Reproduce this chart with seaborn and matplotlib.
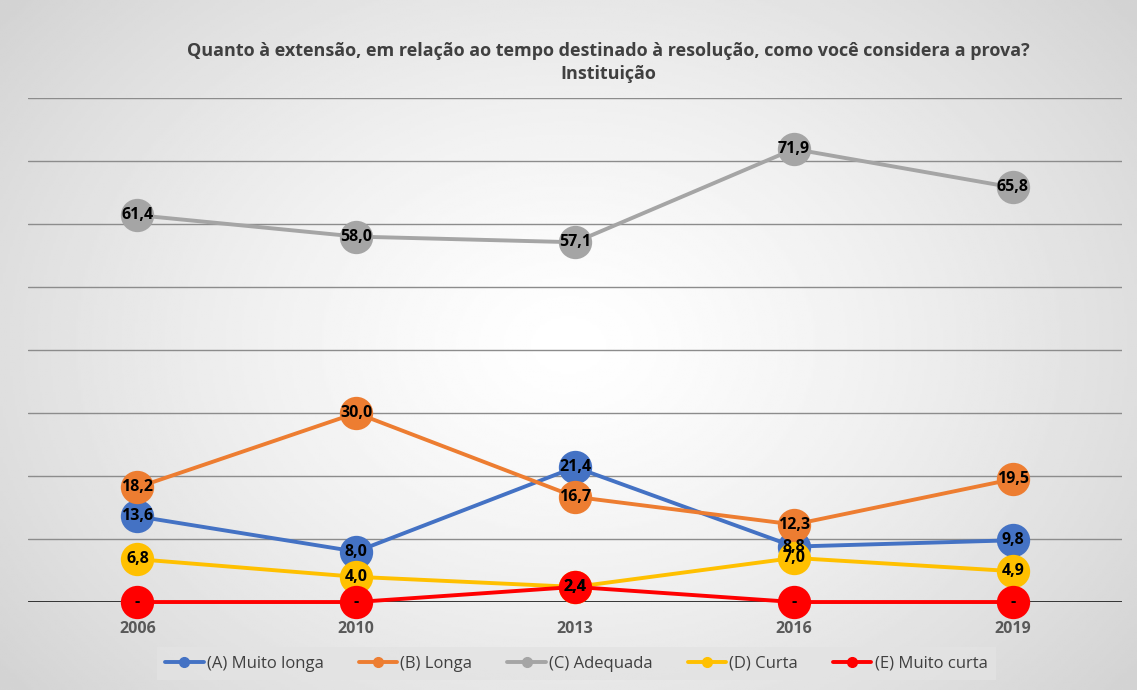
import numpy as np
import pandas as pd
import seaborn as sns
import matplotlib.pyplot as plt
from matplotlib.lines import Line2D

years = ["2006", "2010", "2013", "2016", "2019"]
muito_longa = [13.6, 8.0, 21.4, 8.8, 9.8]
longa = [18.2, 30.0, 16.7, 12.3, 19.5]
adequada = [61.4, 58.0, 57.1, 71.9, 65.8]
curta = [6.8, 4.0, 2.4, 7.0, 4.9]
muito_curta = [0.0, 0.0, 2.4, 0.0, 0.0]

series = ["(A) Muito longa", "(B) Longa", "(C) Adequada", "(D) Curta", "(E) Muito curta"]
colors = ["#4472C4", "#ED7D31", "#A5A5A5", "#FFC000", "#FF0000"]

df = pd.DataFrame({
    "ano": years * 5,
    "serie": np.repeat(series, len(years)),
    "valor": muito_longa + longa + adequada + curta + muito_curta,
})

sns.set_style("white")
plt.rcParams["font.family"] = ["Open Sans", "DejaVu Sans"]

fig = plt.figure(figsize=(11.37, 6.9), dpi=100)

# radial gradient background
bg = fig.add_axes([0, 0, 1, 1], zorder=-5)
yy, xx = np.mgrid[-1:1:300j, -1:1:500j]
r = np.sqrt(xx**2 + (yy * 0.8)**2)
bg.imshow(1 - 0.17 * np.clip(r / 1.25, 0, 1) ** 1.3, cmap="gray", vmin=0, vmax=1,
          aspect="auto", extent=[0, 1, 0, 1])
bg.set_axis_off()

ax = fig.add_axes([0.0246, 0.1275, 0.9624, 0.7305])
ax.patch.set_alpha(0)

for i, s in enumerate(series):
    d = df[df.serie == s]
    sns.lineplot(data=d, x="ano", y="valor", color=colors[i], marker="o",
                 markersize=24, markeredgewidth=0, linewidth=2.8,
                 sort=False, ax=ax, zorder=3 + i, legend=False)
for ln in ax.lines:
    ln.set_clip_on(False)

for s in series:
    d = df[df.serie == s]
    for j, v in enumerate(d.valor):
        lab = "-" if v == 0 else f"{v:.1f}".replace(".", ",")
        ax.text(j, v, lab, ha="center", va="center", fontsize=11.5,
                fontweight="bold", color="black", zorder=20, clip_on=False)

ax.set_ylim(0, 80)
ax.set_xlim(-0.5, 4.5)
ax.set_yticks(np.arange(0, 81, 10))
ax.set_yticklabels([])
ax.yaxis.grid(True, color="#8c8c8c", linewidth=1)
ax.axhline(0, color="#262626", linewidth=2, zorder=2)
ax.set_xlabel("")
ax.set_ylabel("")
ax.tick_params(axis="x", length=0, pad=14, labelsize=11.5, labelcolor="#595959")
for t in ax.get_xticklabels():
    t.set_fontweight("bold")
for sp in ax.spines.values():
    sp.set_visible(False)

fig.text(0.535, 0.926, "Quanto à extensão, em relação ao tempo destinado à resolução, como você considera a prova?",
         ha="center", va="center", fontsize=13, fontweight="bold", color="#404040")
fig.text(0.535, 0.893, "Instituição", ha="center", va="center", fontsize=13,
         fontweight="bold", color="#404040")

handles = [Line2D([0], [0], color=c, lw=2.8, marker="o", markersize=7) for c in colors]
leg = fig.legend(handles, series, loc="center", bbox_to_anchor=(0.507, 0.038), ncol=5,
                 frameon=True, fancybox=False, fontsize=12, handlelength=2.3,
                 handletextpad=0.2, columnspacing=2.1, borderpad=0.5)
leg.get_frame().set_facecolor("#e3e3e3")
leg.get_frame().set_edgecolor("none")
for t in leg.get_texts():
    t.set_color("#404040")

fig.savefig("out.png", dpi=100)
